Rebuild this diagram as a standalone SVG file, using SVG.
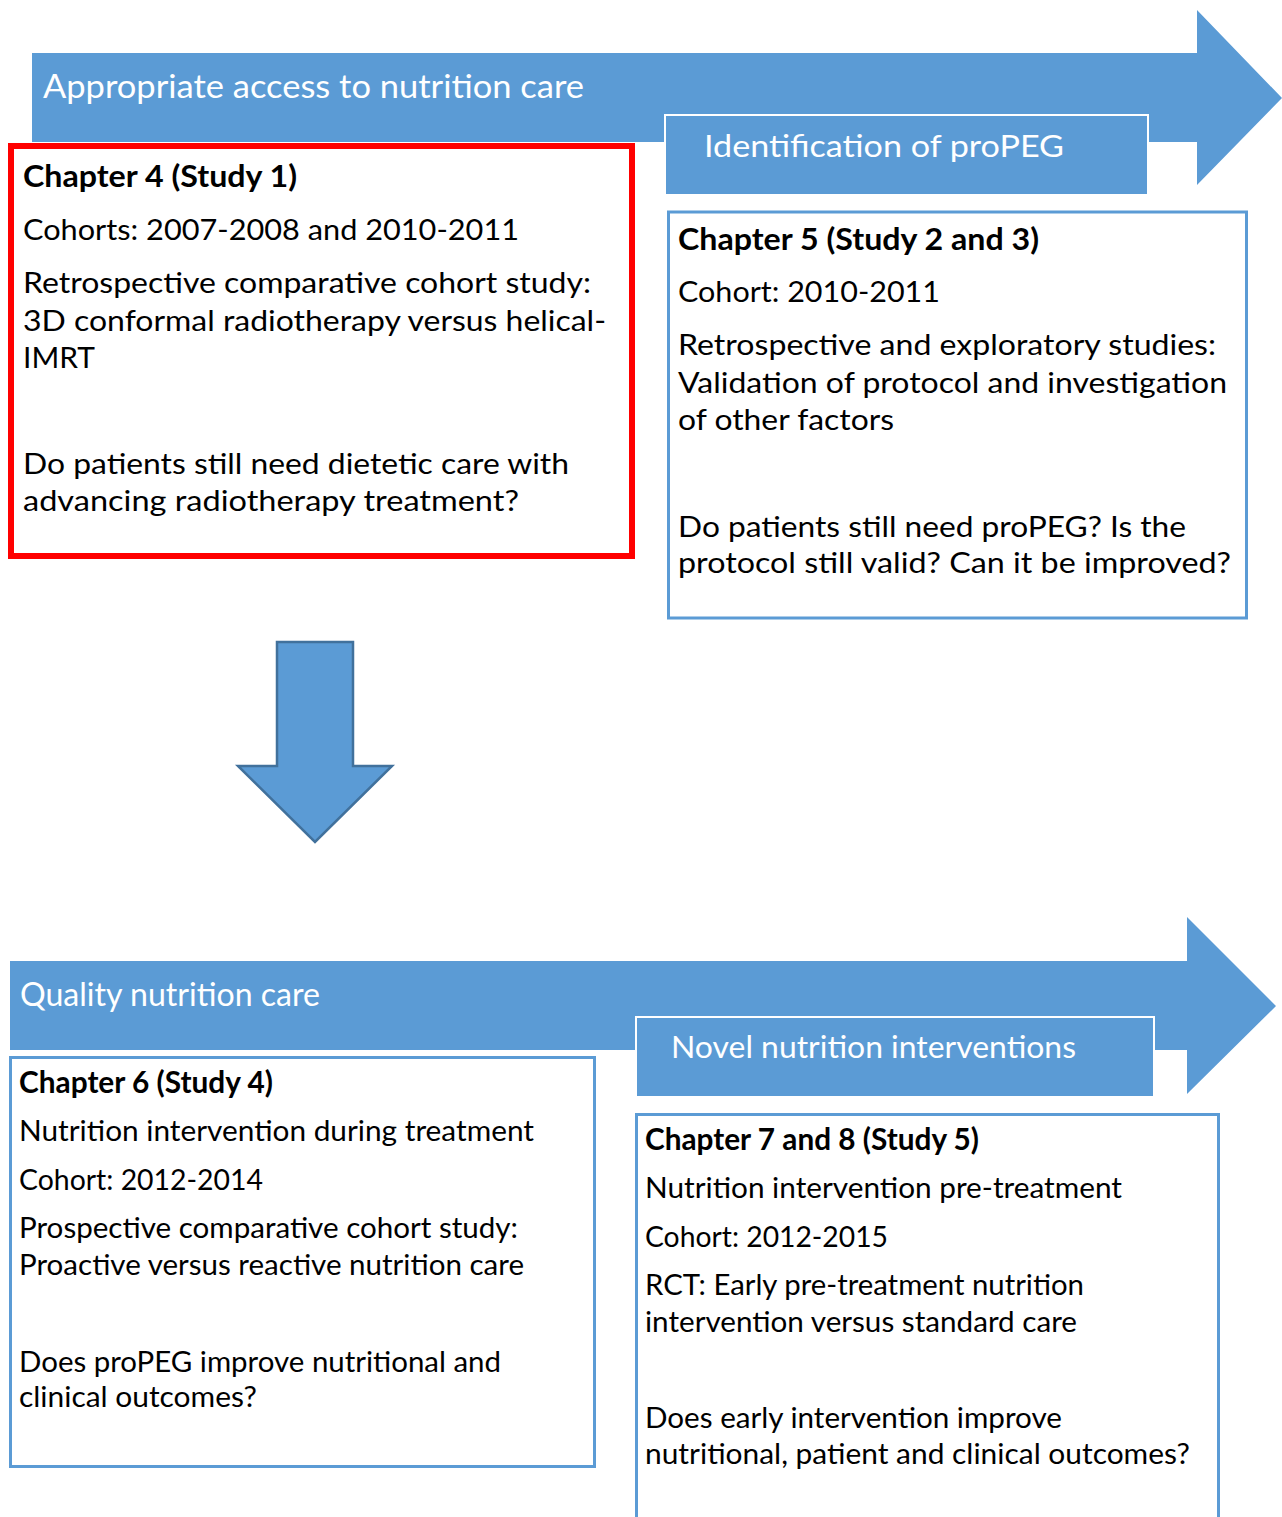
<svg xmlns="http://www.w3.org/2000/svg" width="1282" height="1517" viewBox="0 0 1282 1517">
  <style>
    .band { fill: #5B9BD5; }
    .tag { fill: #5B9BD5; stroke: #ffffff; stroke-width: 2; }
    .card { fill: #ffffff; stroke: #5B9BD5; stroke-width: 3; }
    .card-hl { fill: #ffffff; stroke: #FF0000; stroke-width: 6; }
    .title { font-family: Lato, 'Liberation Sans', sans-serif; font-size: 32.5px; fill: #ffffff; }
    .tagtxt { font-family: Lato, 'Liberation Sans', sans-serif; font-size: 30px; fill: #ffffff; }
    .t { font-family: Lato, 'Liberation Sans', sans-serif; font-size: 29.5px; fill: #000000; }
    .h { font-family: Lato, 'Liberation Sans', sans-serif; font-size: 29.5px; font-weight: bold; fill: #000000; }
    .down { fill: #5B9BD5; stroke: #41719C; stroke-width: 2.5; stroke-linejoin: miter; }
  </style>

  <!-- Stage 1 band: appropriate access -->
  <g id="band-access">
    <polygon class="band" points="32,53 1197,53 1197,10 1282,98 1197,185 1197,142 32,142"/>
    <text class="title" x="43" y="98" textLength="541" lengthAdjust="spacingAndGlyphs">Appropriate access to nutrition care</text>
  </g>

  <g id="tag-propeg">
    <rect class="tag" x="665" y="115" width="483" height="80"/>
    <text class="tagtxt" x="704" y="157" textLength="360" lengthAdjust="spacingAndGlyphs">Identification of proPEG</text>
  </g>

  <!-- Chapter 4 (highlighted) -->
  <g id="chapter-4">
    <rect class="card-hl" x="11" y="146" width="621" height="410"/>
    <text class="h" x="23" y="187" textLength="274" lengthAdjust="spacingAndGlyphs">Chapter 4 (Study 1)</text>
    <text class="t" x="23" y="240" textLength="496" lengthAdjust="spacingAndGlyphs">Cohorts: 2007-2008 and 2010-2011</text>
    <text class="t" x="23" y="293" textLength="568" lengthAdjust="spacingAndGlyphs">Retrospective comparative cohort study:</text>
    <text class="t" x="23" y="331" textLength="583" lengthAdjust="spacingAndGlyphs">3D conformal radiotherapy versus helical-</text>
    <text class="t" x="23" y="368" textLength="72" lengthAdjust="spacingAndGlyphs">IMRT</text>
    <text class="t" x="23" y="474" textLength="546" lengthAdjust="spacingAndGlyphs">Do patients still need dietetic care with</text>
    <text class="t" x="23" y="511" textLength="496" lengthAdjust="spacingAndGlyphs">advancing radiotherapy treatment?</text>
  </g>

  <!-- Chapter 5 -->
  <g id="chapter-5">
    <rect class="card" x="668.5" y="212" width="578" height="406"/>
    <text class="h" x="678" y="250" textLength="361" lengthAdjust="spacingAndGlyphs">Chapter 5 (Study 2 and 3)</text>
    <text class="t" x="678" y="302" textLength="262" lengthAdjust="spacingAndGlyphs">Cohort: 2010-2011</text>
    <text class="t" x="678" y="355" textLength="538" lengthAdjust="spacingAndGlyphs">Retrospective and exploratory studies:</text>
    <text class="t" x="678" y="393" textLength="549" lengthAdjust="spacingAndGlyphs">Validation of protocol and investigation</text>
    <text class="t" x="678" y="430" textLength="216" lengthAdjust="spacingAndGlyphs">of other factors</text>
    <text class="t" x="678" y="537" textLength="508" lengthAdjust="spacingAndGlyphs">Do patients still need proPEG? Is the</text>
    <text class="t" x="678" y="573" textLength="553" lengthAdjust="spacingAndGlyphs">protocol still valid? Can it be improved?</text>
  </g>

  <!-- Stage 2 band: quality care -->
  <g id="band-quality">
    <polygon class="band" points="10,961 1187,961 1187,917 1276,1006 1187,1094 1187,1050 10,1050"/>
    <text class="title" x="20" y="1006" textLength="300" lengthAdjust="spacingAndGlyphs">Quality nutrition care</text>
  </g>

  <g id="tag-novel">
    <rect class="tag" x="636" y="1017" width="518" height="80"/>
    <text class="tagtxt" x="671" y="1058" textLength="405" lengthAdjust="spacingAndGlyphs">Novel nutrition interventions</text>
  </g>

  <!-- Chapter 6 -->
  <g id="chapter-6">
    <rect class="card" x="10.5" y="1057.5" width="584" height="409"/>
    <text class="h" x="19" y="1093" textLength="254" lengthAdjust="spacingAndGlyphs">Chapter 6 (Study 4)</text>
    <text class="t" x="19" y="1141" textLength="515" lengthAdjust="spacingAndGlyphs">Nutrition intervention during treatment</text>
    <text class="t" x="19" y="1190" textLength="244" lengthAdjust="spacingAndGlyphs">Cohort: 2012-2014</text>
    <text class="t" x="19" y="1238" textLength="499" lengthAdjust="spacingAndGlyphs">Prospective comparative cohort study:</text>
    <text class="t" x="19" y="1275" textLength="505" lengthAdjust="spacingAndGlyphs">Proactive versus reactive nutrition care</text>
    <text class="t" x="19" y="1372" textLength="482" lengthAdjust="spacingAndGlyphs">Does proPEG improve nutritional and</text>
    <text class="t" x="19" y="1407" textLength="238" lengthAdjust="spacingAndGlyphs">clinical outcomes?</text>
  </g>

  <!-- Chapter 7 and 8 -->
  <g id="chapter-7-8">
    <rect class="card" x="636.5" y="1114.5" width="582" height="430"/>
    <text class="h" x="645" y="1150" textLength="334" lengthAdjust="spacingAndGlyphs">Chapter 7 and 8 (Study 5)</text>
    <text class="t" x="645" y="1198" textLength="477" lengthAdjust="spacingAndGlyphs">Nutrition intervention pre-treatment</text>
    <text class="t" x="645" y="1247" textLength="243" lengthAdjust="spacingAndGlyphs">Cohort: 2012-2015</text>
    <text class="t" x="645" y="1295" textLength="439" lengthAdjust="spacingAndGlyphs">RCT: Early pre-treatment nutrition</text>
    <text class="t" x="645" y="1332" textLength="432" lengthAdjust="spacingAndGlyphs">intervention versus standard care</text>
    <text class="t" x="645" y="1428" textLength="417" lengthAdjust="spacingAndGlyphs">Does early intervention improve</text>
    <text class="t" x="645" y="1464" textLength="545" lengthAdjust="spacingAndGlyphs">nutritional, patient and clinical outcomes?</text>
  </g>

  <!-- Flow between the two stages -->
  <g id="connectors">
    <polygon class="down" points="277,642 353,642 353,766 392,766 315,842 238,766 277,766"/>
  </g>
</svg>
